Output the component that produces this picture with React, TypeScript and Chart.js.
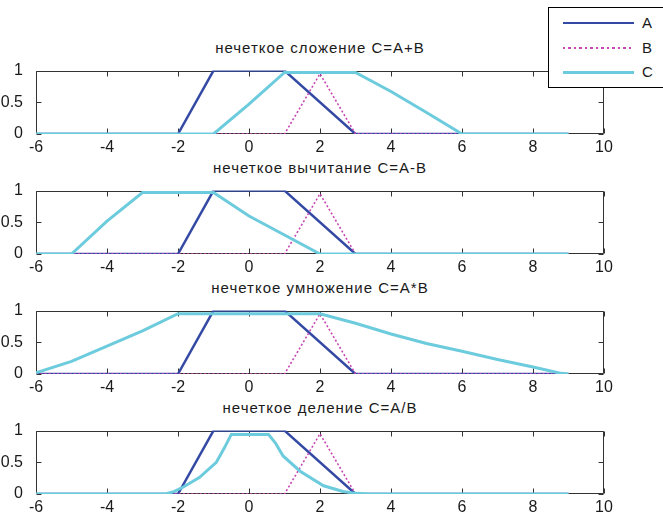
import React, { useEffect, useRef } from 'react';
import { Chart, registerables } from 'chart.js';

Chart.register(...registerables);

// ---------- data ----------
const SERIES_NAMES = ['A', 'B', 'C'];
const SERIES_COLORS = ['#3449a4', '#c846b4', '#6ccbdc'];

const TITLES = [
  'нечеткое сложение C=A+B',
  'нечеткое вычитание C=A-B',
  'нечеткое умножение C=A*B',
  'нечеткое деление C=A/B',
];

const X_TICKS = [-6, -4, -2, 0, 2, 4, 6, 8, 10];
const Y_TICKS = [0, 0.5, 1];
const Y_TICK_LABELS = ['0', '0.5', '1'];

// A (trapezoid) and B (triangle) — same in every subplot
const A_X = [-6, -2, -1, 1, 3, 9];
const A_Y = [0, 0, 1, 1, 0, 0];
const B_X = [-6, 1, 2, 3, 9];
const B_Y = [0, 0, 0.95, 0, 0];

// C for each operation
const SUM_X = [-6, -1, 0, 1, 3, 4, 5, 6, 9];
const SUM_Y = [0, 0, 0.47, 0.97, 0.97, 0.67, 0.34, 0, 0];
const DIFF_X = [-6, -5, -4, -3, -1, 0, 1, 2, 9];
const DIFF_Y = [0, 0, 0.52, 0.97, 0.97, 0.6, 0.3, 0, 0];
const MUL_X = [-6, -5, -4, -3, -2, 2, 3, 4, 5, 6, 7, 8, 8.8, 9];
const MUL_Y = [0.02, 0.2, 0.44, 0.68, 0.95, 0.95, 0.8, 0.63, 0.48, 0.36, 0.23, 0.11, 0.01, 0];
const DIV_X = [-6, -2.35, -2.1, -1.85, -1.4, -0.92, -0.7, -0.5, 0.55, 0.75, 0.96, 1.44, 2.1, 2.65, 3, 3.4, 9];
const DIV_Y = [0, 0, 0.04, 0.11, 0.26, 0.5, 0.72, 0.94, 0.94, 0.8, 0.6, 0.36, 0.13, 0.04, 0.01, 0, 0];

const C_XS = [SUM_X, DIFF_X, MUL_X, DIV_X];
const C_YS = [SUM_Y, DIFF_Y, MUL_Y, DIV_Y];

// ---------- layout ----------
const W = 663;
const H = 519;
const BOX_LEFT = 36;
const BOX_RIGHT = 604;
const BOX_TOP0 = 66;
const BOX_STEP = 120;
const BOX_H = 68;
const PAD_TOP = 10;
const XAXIS_H = 24;
const FONT = "'Liberation Sans', Arial, Helvetica, sans-serif";
const TEXT_COLOR = '#1a1a1a';
const AXIS_COLOR = '#333333';

const pts = (xs: number[], ys: number[]) => xs.map((x, i) => ({ x, y: ys[i] }));

const boxPlugin = {
  id: 'matlabBox',
  beforeDatasetsDraw(chart: any) {
    const { ctx, chartArea, scales } = chart;
    const { left, right, top, bottom } = chartArea;
    ctx.save();
    ctx.strokeStyle = AXIS_COLOR;
    ctx.lineWidth = 1;
    const L = Math.round(left) + 0.5;
    const R = Math.round(right) - 0.5;
    const T = Math.round(top) + 0.5;
    const B = Math.round(bottom) - 0.5;
    ctx.beginPath();
    ctx.rect(L, T, R - L, B - T);
    const tl = 5;
    X_TICKS.forEach((v) => {
      const px = Math.round(scales.x.getPixelForValue(v)) + 0.5;
      ctx.moveTo(px, B);
      ctx.lineTo(px, B - tl);
      ctx.moveTo(px, T);
      ctx.lineTo(px, T + tl);
    });
    Y_TICKS.forEach((v) => {
      const py = Math.round(scales.y.getPixelForValue(v)) + 0.5;
      ctx.moveTo(L, py);
      ctx.lineTo(L + tl, py);
      ctx.moveTo(R, py);
      ctx.lineTo(R - tl, py);
    });
    ctx.stroke();
    ctx.restore();
  },
};

function Subplot({ index }: { index: number }) {
  const ref = useRef<HTMLCanvasElement | null>(null);
  useEffect(() => {
    if (!ref.current) return;
    const chart = new Chart(ref.current, {
      type: 'line',
      data: {
        datasets: [
          {
            label: SERIES_NAMES[0],
            data: pts(A_X, A_Y),
            borderColor: SERIES_COLORS[0],
            borderWidth: 2.5,
            pointRadius: 0,
            tension: 0,
            order: 2,
          },
          {
            label: SERIES_NAMES[1],
            data: pts(B_X, B_Y),
            borderColor: SERIES_COLORS[1],
            borderWidth: 1.6,
            borderDash: [2, 2.2],
            pointRadius: 0,
            tension: 0,
            order: 1,
          },
          {
            label: SERIES_NAMES[2],
            data: pts(C_XS[index], C_YS[index]),
            borderColor: SERIES_COLORS[2],
            borderWidth: 3,
            pointRadius: 0,
            tension: 0,
            order: 0,
          },
        ],
      },
      options: {
        animation: false,
        responsive: false,
        devicePixelRatio: 1,
        layout: { padding: { left: 0, right: W - BOX_RIGHT, top: PAD_TOP, bottom: 0 } },
        plugins: { legend: { display: false }, tooltip: { enabled: false }, title: { display: false } },
        scales: {
          x: {
            type: 'linear',
            min: -6,
            max: 10,
            grid: { display: false },
            border: { display: false },
            afterBuildTicks: (s: any) => {
              s.ticks = X_TICKS.map((v) => ({ value: v }));
            },
            afterFit: (s: any) => {
              s.height = XAXIS_H;
            },
            ticks: {
              autoSkip: false,
              maxRotation: 0,
              padding: -4,
              color: TEXT_COLOR,
              font: { family: FONT, size: 16 },
              callback: (v: any) => String(v),
            },
          },
          y: {
            type: 'linear',
            min: 0,
            max: 1,
            grid: { display: false },
            border: { display: false },
            afterBuildTicks: (s: any) => {
              s.ticks = Y_TICKS.map((v) => ({ value: v }));
            },
            afterFit: (s: any) => {
              s.width = BOX_LEFT;
            },
            ticks: {
              autoSkip: false,
              padding: 5,
              color: TEXT_COLOR,
              font: { family: FONT, size: 16 },
              callback: (v: any) => {
                const i = Y_TICKS.indexOf(Number(v));
                return i >= 0 ? Y_TICK_LABELS[i] : '';
              },
            },
          },
        },
      },
      plugins: [boxPlugin],
    } as any);
    return () => chart.destroy();
  }, [index]);

  const boxTop = BOX_TOP0 + BOX_STEP * index;
  return (
    <>
      <div
        style={{
          position: 'absolute',
          left: BOX_LEFT,
          width: BOX_RIGHT - BOX_LEFT,
          top: boxTop - 26,
          textAlign: 'center',
          font: `15px ${FONT}`,
          lineHeight: '15px',
          letterSpacing: '1px',
          color: TEXT_COLOR,
          whiteSpace: 'nowrap',
        }}
      >
        {TITLES[index]}
      </div>
      <canvas
        ref={ref}
        width={W}
        height={PAD_TOP + BOX_H + XAXIS_H}
        style={{
          position: 'absolute',
          left: 0,
          top: boxTop - PAD_TOP,
          width: W,
          height: PAD_TOP + BOX_H + XAXIS_H,
        }}
      />
    </>
  );
}

function Legend() {
  const rowsY = [15, 40, 64];
  return (
    <div
      style={{
        position: 'absolute',
        left: 548,
        top: 7,
        width: 130,
        height: 79,
        background: '#ffffff',
        border: '1px solid #000000',
        zIndex: 5,
      }}
    >
      {SERIES_NAMES.map((name, i) => (
        <React.Fragment key={name}>
          <div
            style={{
              position: 'absolute',
              left: 14,
              width: 71,
              top: rowsY[i] - (i === 2 ? 1.5 : 1),
              height: i === 2 ? 3 : 2,
              background:
                i === 1
                  ? `repeating-linear-gradient(to right, ${SERIES_COLORS[1]} 0px, ${SERIES_COLORS[1]} 2.5px, transparent 2.5px, transparent 5.5px)`
                  : SERIES_COLORS[i],
            }}
          />
          <div
            style={{
              position: 'absolute',
              left: 93,
              top: rowsY[i] - 8,
              font: `15px ${FONT}`,
              lineHeight: '16px',
              color: TEXT_COLOR,
            }}
          >
            {name}
          </div>
        </React.Fragment>
      ))}
    </div>
  );
}

export default function App() {
  return (
    <div
      style={{
        position: 'fixed',
        left: 0,
        top: 0,
        width: W,
        height: H,
        overflow: 'hidden',
        background: '#ffffff',
      }}
    >
      {TITLES.map((_, i) => (
        <Subplot key={i} index={i} />
      ))}
      <Legend />
    </div>
  );
}
